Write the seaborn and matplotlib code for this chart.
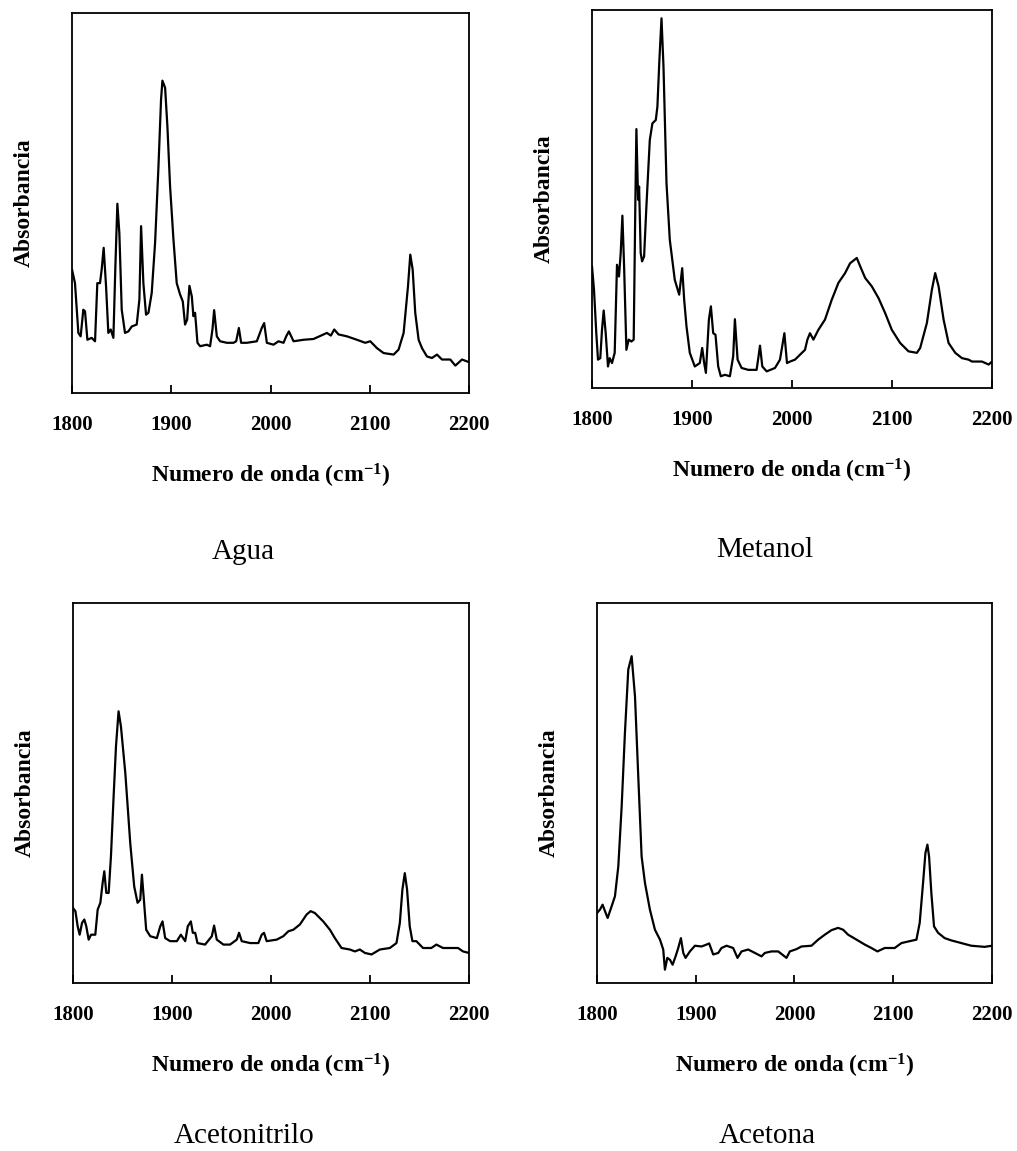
import matplotlib
matplotlib.use("Agg")
import matplotlib.pyplot as plt
import seaborn as sns

# espectros IR (numero de onda, absorbancia relativa)
agua_wn = [1800, 1803.0, 1806.4, 1808.7, 1811.4, 1813.1, 1815.5, 1819.8, 1823.2, 1825.5,
           1828.2, 1829.9, 1831.9, 1834.3, 1836.6, 1839.0, 1841.7, 1843.7, 1845.7, 1847.7,
           1850.1, 1853.4, 1856.8, 1860.2, 1865.2, 1867.9, 1869.6, 1871.9, 1874.6, 1877.0,
           1880.3, 1883.7, 1887.1, 1889.7, 1891.1, 1893.8, 1896.1, 1898.8, 1902.2, 1905.5,
           1908.9, 1911.6, 1913.9, 1916.0, 1918.3, 1920.7, 1922.3, 1924.0, 1926.4, 1929.1,
           1935.8, 1939.1, 1941.5, 1943.2, 1945.9, 1949.2, 1956.0, 1962.7, 1965.4, 1968.1,
           1970.4, 1976.1, 1986.2, 1991.2, 1993.6, 1996.3, 2003.0, 2008.0, 2013.1, 2015.8,
           2018.5, 2023.2, 2033.3, 2043.3, 2056.8, 2060.8, 2064.2, 2068.5, 2077.0, 2087.0,
           2095.4, 2100.5, 2107.2, 2113.9, 2124.0, 2129.0, 2134.1, 2138.5, 2140.8, 2143.2,
           2145.8, 2149.2, 2152.6, 2157.6, 2162.7, 2167.7, 2172.7, 2181.1, 2186.2, 2192.9, 2200]
agua_abs = [0.325, 0.289, 0.158, 0.149, 0.219, 0.215, 0.140, 0.145, 0.136, 0.289,
            0.289, 0.325, 0.382, 0.281, 0.158, 0.167, 0.145, 0.333, 0.498, 0.421,
            0.219, 0.158, 0.162, 0.175, 0.180, 0.246, 0.439, 0.289, 0.206, 0.211,
            0.263, 0.395, 0.596, 0.772, 0.822, 0.803, 0.702, 0.544, 0.404, 0.289,
            0.259, 0.241, 0.180, 0.193, 0.282, 0.254, 0.202, 0.211, 0.132, 0.123,
            0.127, 0.123, 0.167, 0.218, 0.149, 0.136, 0.132, 0.132, 0.136, 0.171,
            0.132, 0.132, 0.136, 0.171, 0.184, 0.132, 0.127, 0.136, 0.132, 0.149,
            0.162, 0.136, 0.140, 0.142, 0.158, 0.151, 0.167, 0.154, 0.149, 0.140,
            0.132, 0.136, 0.118, 0.105, 0.101, 0.114, 0.158, 0.281, 0.364, 0.325,
            0.211, 0.140, 0.118, 0.096, 0.092, 0.101, 0.088, 0.088, 0.072, 0.088, 0.081]

metanol_wn = [1800, 1802.0, 1804.3, 1806.0, 1808.3, 1810.0, 1811.7, 1813.7, 1816.0, 1817.7,
              1820.0, 1822.7, 1825.0, 1827.0, 1828.7, 1830.4, 1832.1, 1834.4, 1836.7, 1839.4,
              1841.7, 1843.4, 1844.4, 1846.1, 1847.1, 1848.7, 1850.1, 1852.1, 1854.4, 1857.8,
              1860.4, 1863.8, 1865.4, 1867.4, 1869.5, 1871.5, 1874.5, 1877.8, 1882.8, 1887.2,
              1890.2, 1892.2, 1894.5, 1897.8, 1902.8, 1907.8, 1910.2, 1912.2, 1913.9, 1916.9,
              1918.9, 1921.2, 1923.5, 1926.2, 1928.8, 1932.9, 1937.9, 1941.2, 1942.9, 1945.6,
              1949.6, 1956.3, 1964.6, 1966.3, 1968.0, 1970.3, 1974.7, 1983.0, 1988.0, 1992.4,
              1995.0, 1998.1, 2003.0, 2008.0, 2013.0, 2015.4, 2018.0, 2021.4, 2026.4, 2033.0,
              2039.7, 2046.4, 2053.1, 2058.1, 2064.8, 2068.2, 2073.2, 2079.8, 2086.5, 2093.2,
              2099.8, 2108.2, 2116.5, 2124.9, 2128.2, 2134.9, 2139.9, 2143.2, 2146.6, 2151.6,
              2156.6, 2163.3, 2170.0, 2176.6, 2180.0, 2190.0, 2196.7, 2200]
metanol_abs = [0.322, 0.260, 0.145, 0.075, 0.079, 0.154, 0.205, 0.145, 0.057, 0.079,
               0.066, 0.093, 0.326, 0.295, 0.357, 0.456, 0.322, 0.101, 0.128, 0.123,
               0.128, 0.498, 0.685, 0.498, 0.533, 0.357, 0.335, 0.348, 0.480, 0.656,
               0.700, 0.709, 0.744, 0.868, 0.978, 0.850, 0.542, 0.392, 0.286, 0.247,
               0.317, 0.233, 0.163, 0.093, 0.057, 0.066, 0.106, 0.066, 0.040, 0.181,
               0.216, 0.145, 0.141, 0.057, 0.031, 0.035, 0.031, 0.084, 0.182, 0.075,
               0.053, 0.048, 0.048, 0.079, 0.112, 0.057, 0.044, 0.053, 0.075, 0.145,
               0.066, 0.070, 0.075, 0.088, 0.101, 0.128, 0.145, 0.128, 0.154, 0.181,
               0.233, 0.278, 0.304, 0.330, 0.344, 0.322, 0.291, 0.269, 0.238, 0.198,
               0.154, 0.119, 0.097, 0.093, 0.106, 0.172, 0.260, 0.304, 0.269, 0.181,
               0.119, 0.093, 0.079, 0.075, 0.070, 0.070, 0.062, 0.070]

acetonitrilo_wn = [1800, 1802.4, 1804.7, 1806.7, 1809.1, 1811.4, 1813.4, 1815.8, 1818.2, 1822.5,
                   1824.9, 1827.6, 1829.9, 1831.6, 1833.6, 1836.0, 1838.3, 1841.0, 1843.4, 1846.0,
                   1848.4, 1852.8, 1857.8, 1861.8, 1865.2, 1867.9, 1869.6, 1871.3, 1873.9, 1878.0,
                   1884.7, 1888.1, 1890.4, 1893.1, 1898.1, 1904.9, 1908.9, 1913.3, 1915.9, 1919.0,
                   1921.0, 1923.4, 1925.7, 1933.4, 1940.2, 1942.5, 1945.2, 1951.9, 1958.6, 1965.4,
                   1967.7, 1970.4, 1978.8, 1987.2, 1990.6, 1992.9, 1995.6, 2005.7, 2012.4, 2017.5,
                   2022.5, 2029.2, 2035.9, 2040.0, 2044.3, 2052.7, 2059.5, 2064.5, 2071.2, 2079.6,
                   2084.7, 2089.7, 2094.8, 2101.5, 2109.9, 2120.0, 2126.7, 2130.1, 2132.7, 2135.1,
                   2137.4, 2140.1, 2142.8, 2146.8, 2153.5, 2161.9, 2167.0, 2173.7, 2188.9, 2193.9, 2200]
acetonitrilo_abs = [0.197, 0.189, 0.149, 0.127, 0.158, 0.167, 0.149, 0.114, 0.127, 0.127,
                    0.193, 0.211, 0.263, 0.294, 0.237, 0.237, 0.333, 0.491, 0.623, 0.715,
                    0.675, 0.553, 0.368, 0.254, 0.211, 0.219, 0.285, 0.228, 0.140, 0.123,
                    0.118, 0.149, 0.162, 0.118, 0.110, 0.110, 0.127, 0.110, 0.149, 0.162,
                    0.132, 0.132, 0.105, 0.101, 0.123, 0.151, 0.114, 0.101, 0.101, 0.114,
                    0.132, 0.110, 0.105, 0.105, 0.127, 0.132, 0.110, 0.114, 0.123, 0.136,
                    0.140, 0.154, 0.180, 0.189, 0.184, 0.162, 0.140, 0.118, 0.092, 0.088,
                    0.083, 0.088, 0.079, 0.075, 0.088, 0.092, 0.105, 0.158, 0.246, 0.289,
                    0.246, 0.149, 0.110, 0.110, 0.092, 0.092, 0.101, 0.092, 0.092, 0.083, 0.079]

acetona_wn = [1800, 1803.0, 1805.7, 1808.1, 1810.8, 1814.2, 1818.2, 1821.6, 1825.0, 1828.3,
              1831.7, 1835.1, 1838.5, 1841.8, 1845.2, 1848.6, 1853.6, 1858.7, 1863.8, 1867.1,
              1868.8, 1871.2, 1873.9, 1876.6, 1879.6, 1882.3, 1885.0, 1887.4, 1889.7, 1894.1,
              1899.2, 1905.9, 1910.9, 1913.6, 1917.7, 1922.8, 1926.1, 1931.2, 1937.9, 1942.3,
              1946.4, 1953.1, 1959.9, 1966.6, 1970.0, 1976.7, 1983.5, 1987.5, 1991.9, 1995.3,
              2002.0, 2007.1, 2017.2, 2024.0, 2030.7, 2037.5, 2044.2, 2049.3, 2054.3, 2062.8,
              2071.2, 2077.9, 2084.0, 2091.4, 2101.5, 2108.3, 2116.7, 2123.5, 2126.8, 2130.2,
              2132.6, 2134.6, 2136.3, 2138.6, 2141.3, 2145.4, 2152.1, 2158.8, 2168.9, 2179.0,
              2192.6, 2200]
acetona_abs = [0.184, 0.193, 0.206, 0.189, 0.171, 0.197, 0.228, 0.307, 0.465, 0.658,
               0.825, 0.860, 0.754, 0.544, 0.333, 0.263, 0.193, 0.140, 0.114, 0.088,
               0.035, 0.066, 0.061, 0.048, 0.070, 0.092, 0.118, 0.079, 0.066, 0.083,
               0.098, 0.096, 0.101, 0.104, 0.075, 0.079, 0.092, 0.098, 0.092, 0.066,
               0.083, 0.088, 0.079, 0.070, 0.079, 0.083, 0.083, 0.075, 0.066, 0.083,
               0.089, 0.096, 0.098, 0.114, 0.127, 0.139, 0.145, 0.140, 0.127, 0.114,
               0.101, 0.092, 0.083, 0.092, 0.092, 0.105, 0.110, 0.114, 0.158, 0.263,
               0.342, 0.364, 0.333, 0.237, 0.149, 0.132, 0.118, 0.112, 0.105, 0.098,
               0.095, 0.098]

solventes = ["Agua", "Metanol", "Acetonitrilo", "Acetona"]
xticks = [1800, 1900, 2000, 2100, 2200]

sns.set_style("white")
plt.rcParams["font.family"] = ["Liberation Serif", "DejaVu Serif"]
plt.rcParams["text.color"] = "black"
plt.rcParams["axes.labelcolor"] = "black"
plt.rcParams["xtick.color"] = "black"
plt.rcParams["mathtext.fontset"] = "custom"
plt.rcParams["mathtext.rm"] = "Liberation Serif:bold"
plt.rcParams["mathtext.it"] = "Liberation Serif:bold"
plt.rcParams["mathtext.bf"] = "Liberation Serif:bold"

fig = plt.figure(figsize=(10.17, 11.51), dpi=100)

# [left, bottom, width, height] en fraccion de la figura
posiciones = [
    [0.0708, 0.6586, 0.3904, 0.3301],
    [0.5821, 0.6629, 0.3933, 0.3284],
    [0.0718, 0.1460, 0.3894, 0.3301],
    [0.5870, 0.1460, 0.3884, 0.3301],
]
# linea base de cada titulo (pixeles desde arriba)
titulo_base = [559, 557, 1143, 1143]
datos = [(agua_wn, agua_abs), (metanol_wn, metanol_abs),
         (acetonitrilo_wn, acetonitrilo_abs), (acetona_wn, acetona_abs)]

for pos, (wn, ab), nombre, yb in zip(posiciones, datos, solventes, titulo_base):
    ax = fig.add_axes(pos)
    sns.lineplot(x=wn, y=ab, ax=ax, color="black", linewidth=1.6,
                 estimator=None, sort=False)
    ax.set_xlim(1800, 2200)
    ax.set_ylim(0, 1)
    ax.set_xticks(xticks)
    ax.set_yticks([])
    ax.tick_params(axis="x", bottom=True, direction="in", length=6, width=1.3,
                   pad=16, labelsize=15, colors="black")
    for lbl in ax.get_xticklabels():
        lbl.set_fontweight("bold")
    for sp in ax.spines.values():
        sp.set_visible(True)
        sp.set_color("black")
        sp.set_linewidth(1.3)
    ax.set_xlabel(r"Numero de onda (cm$^{-1}$)", fontsize=17, fontweight="bold",
                  labelpad=19, color="black")
    ax.set_ylabel("Absorbancia", fontsize=17, fontweight="bold", labelpad=27,
                  color="black")
    # titulo del solvente bajo cada panel
    fig.text(pos[0] + pos[2] / 2 - 27 / 1017, 1 - yb / 1151, nombre,
             fontsize=21, ha="center", va="baseline", color="black")

fig.savefig("out.png", dpi=100)
